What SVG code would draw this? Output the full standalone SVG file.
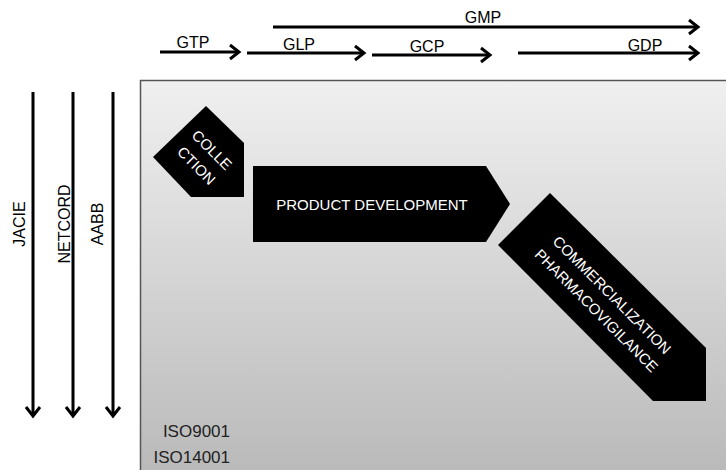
<svg xmlns="http://www.w3.org/2000/svg" width="726" height="470" viewBox="0 0 726 470">
<defs>
<linearGradient id="bg" x1="0" y1="0" x2="0" y2="1">
<stop offset="0" stop-color="#f0f0f0"/>
<stop offset="1" stop-color="#b9b9b9"/>
</linearGradient>
<marker id="ah" markerUnits="userSpaceOnUse" markerWidth="20" markerHeight="20" viewBox="-12 -10 14 20" refX="0" refY="0" orient="auto">
<path d="M-9,-7 L0,0 L-9,7" fill="none" stroke="#000" stroke-width="3"/>
</marker>
<style>
.ar{stroke:#000;stroke-width:3;fill:none;marker-end:url(#ah)}
.lb{font-family:"Liberation Sans",Arial,sans-serif;font-size:16px;fill:#000;text-anchor:middle}
.wt{font-family:"Liberation Sans",Arial,sans-serif;font-size:15px;fill:#fff;text-anchor:middle}
.iso{font-family:"Liberation Sans",Arial,sans-serif;font-size:17px;fill:#222;text-anchor:end}
</style>
</defs>
<rect width="726" height="470" fill="#fff"/>
<rect id="panel" x="140.5" y="80.5" width="590" height="395" fill="url(#bg)" stroke="#555" stroke-width="1.5"/>
<g id="connectors">
<line class="ar" x1="273" y1="27" x2="698" y2="27"/>
<line class="ar" x1="160" y1="52" x2="239" y2="52"/>
<line class="ar" x1="247" y1="53" x2="364" y2="53"/>
<line class="ar" x1="372" y1="55" x2="490" y2="55"/>
<line class="ar" x1="518" y1="53" x2="698" y2="53"/>
<line class="ar" x1="33" y1="92" x2="33" y2="416"/>
<line class="ar" x1="73" y1="92" x2="73" y2="416"/>
<line class="ar" x1="113" y1="92" x2="113" y2="416"/>
</g>
<g id="labels-top">
<text class="lb" x="483" y="23">GMP</text>
<text class="lb" x="193" y="48">GTP</text>
<text class="lb" x="299" y="50">GLP</text>
<text class="lb" x="427" y="52">GCP</text>
<text class="lb" x="645" y="51">GDP</text>
</g>
<g id="labels-left">
<text class="lb" transform="translate(25,224) rotate(-90)">JACIE</text>
<text class="lb" transform="translate(70,224) rotate(-90)">NETCORD</text>
<text class="lb" transform="translate(103,224) rotate(-90)">AABB</text>
</g>
<g id="collection">
<polygon points="153,157 206,106 244,143 244,197 191,197" fill="#000"/>
<text class="wt" transform="translate(204,158) rotate(45)"><tspan x="0" y="-6">COLLE</tspan><tspan x="0" y="16">CTION</tspan></text>
</g>
<g id="product-development">
<polygon points="253,166 486,166 510,204 486,242 253,242" fill="#000"/>
<text class="wt" x="372" y="209.5">PRODUCT DEVELOPMENT</text>
</g>
<g id="commercialization">
<polygon points="550,193 706,348 706,401 653,401 498,245" fill="#000"/>
<text class="wt" transform="translate(604,303) rotate(45)"><tspan x="0" y="-6">COMMERCIALIZATION</tspan><tspan x="0" y="16">PHARMACOVIGILANCE</tspan></text>
</g>
<g id="iso">
<text class="iso" x="230" y="437">ISO9001</text>
<text class="iso" x="230" y="463">ISO14001</text>
</g>
</svg>
